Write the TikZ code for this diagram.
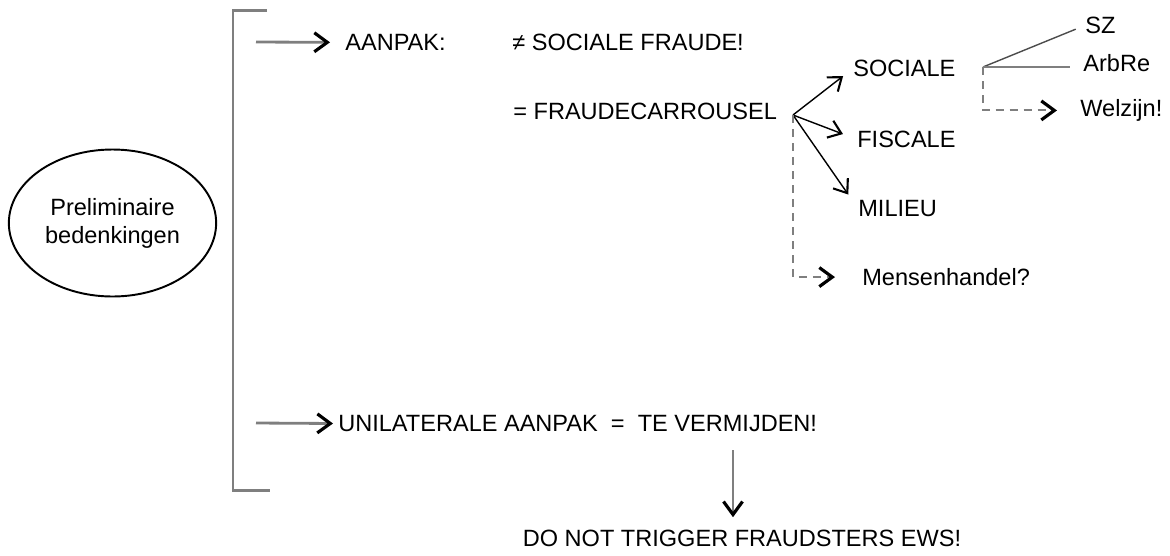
\documentclass[tikz,border=0pt]{standalone}
\usepackage{fontspec}
\setmainfont{Liberation Sans}
\usepackage{tikz}
\usetikzlibrary{shapes.geometric,arrows.meta}
\definecolor{linegray}{HTML}{7F7F7F}
\tikzset{
	txt/.style={anchor=base west,inner sep=0pt},
	chev/.style={-{Straight Barb[length=0.26cm,width=0.38cm,line width=1.8pt,color=black]}},
	feed/.style={chev,draw=linegray,line width=1.6pt},
	branch/.style={-{Straight Barb[length=0.24cm,width=0.36cm,line width=1.2pt]},line width=0.8pt},
	dashbranch/.style={chev,draw=linegray,line width=1.1pt,dash pattern=on 0.16cm off 0.12cm}
}

\begin{document}
\begin{tikzpicture}[font=\fontsize{13.4}{16}\selectfont]
	\useasboundingbox (0,0) rectangle (23.4,-11.1);
	\node[ellipse,draw,line width=1.1pt,minimum width=4.02cm,minimum height=2.94cm,align=center] (P) at (2.25,-4.46) {Preliminaire\\bedenkingen};
	\draw[linegray,line width=1.7pt] (5.34,-0.2) -- (4.66,-0.2) -- (4.66,-9.8) -- (5.40,-9.8);
	\node[txt] (A1) at (6.90,-1.01) {AANPAK:};
	\node[txt] (A2) at (10.24,-1.01) {≠ SOCIALE FRAUDE!};
	\node[txt] (A3) at (10.26,-2.39) {= FRAUDECARROUSEL};
	\node[txt] (S1) at (17.06,-1.53) {SOCIALE};
	\node[txt] (S2) at (17.14,-2.95) {FISCALE};
	\node[txt] (S3) at (17.16,-4.33) {MILIEU};
	\node[txt] (S4) at (17.24,-5.71) {Mensenhandel?};
	\node[txt] (Z1) at (21.70,-0.67) {SZ};
	\node[txt] (Z2) at (21.66,-1.43) {ArbRe};
	\node[txt] (Z3) at (21.60,-2.33) {Welzijn!};
	\node[txt] (U1) at (6.76,-8.63) {UNILATERALE AANPAK\ \ =\ \ TE VERMIJDEN!};
	\node[anchor=base,inner sep=0pt] (U2) at (14.84,-10.93) {DO NOT TRIGGER FRAUDSTERS EWS!};
	\coordinate (B1) at (5.12,-0.84);
	\coordinate (B2) at (5.12,-8.46);
	\coordinate (D1) at (14.66,-9.0);
	\coordinate (C1) at (15.86,-2.30);
	\coordinate (C2) at (19.66,-1.34);
	\draw[feed,shorten >=0.3cm] (B1) -- (A1.west);
	\draw[feed,shorten >=0.1cm] (B2) -- (U1.west);
	\draw[feed,line width=1.1pt,shorten >=0.25cm] (D1) -- (D1 |- U2.north);
	\draw[branch,shorten >=0.25cm] (C1) -- (S1.west);
	\draw[branch,shorten >=0.3cm] (C1) -- (S2.west);
	\draw[branch,shorten >=0.34cm] (C1) -- (S3.west);
	\draw[dashbranch,shorten >=0.54cm] (C1) -- (C1 |- S4.west) -- (S4.west);
	\draw[linegray!60!black,line width=0.8pt,shorten >=0.2cm] (C2) -- (Z1.west);
	\draw[linegray,line width=1.2pt,shorten >=0.26cm] (C2) -- (C2 -| Z2.west);
	\draw[dashbranch,shorten >=0.46cm] (C2) -- (C2 |- Z3.west) -- (Z3.west);
	%\draw[red] (current bounding box.south west) rectangle (current bounding box.north east);
\end{tikzpicture}
\end{document}
